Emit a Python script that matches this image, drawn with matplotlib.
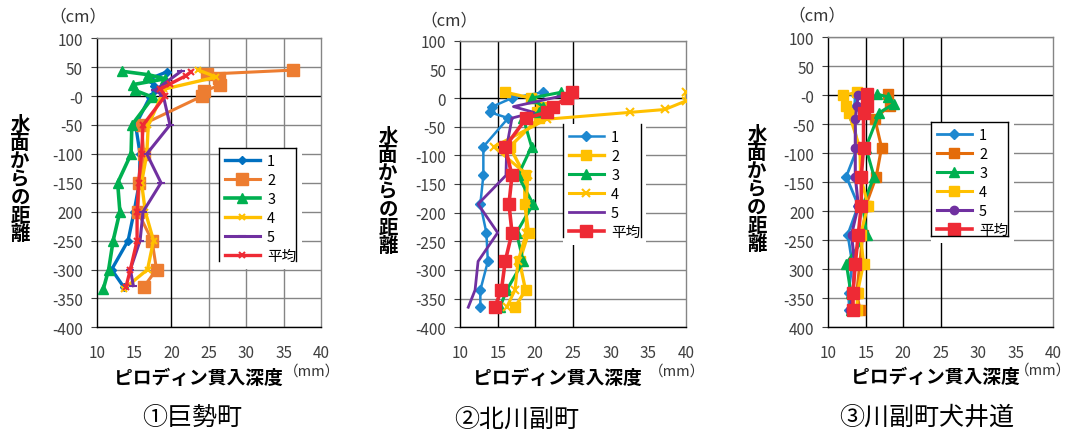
import numpy as np
import matplotlib
matplotlib.use('Agg')
import matplotlib.pyplot as plt
from matplotlib.lines import Line2D

plt.rcParams.update({
    'font.family': ['Noto Sans CJK JP', 'DejaVu Sans'],
    'font.size': 10, 'axes.linewidth': 1.0,
})

W, H = 1070, 435

# ---- data: depth from water surface (cm), Pilodyn penetration (mm) ----
# panel 1  巨勢町
p1_d1 = [42, 30, 18, 10, -2, -50, -100, -150, -200, -250, -300, -330]
p1_v1 = [19.4, 17.1, 17.6, 17.8, 17.1, 15.2, 15.8, 15.7, 15.0, 14.2, 12.0, 13.6]
p1_d2 = [45, 38, 31, 19, 9, 0, -50, -100, -150, -200, -250, -300, -330]
p1_v2 = [36.3, 24.8, 26.3, 26.5, 24.4, 24.1, 16.0, 16.3, 15.7, 15.5, 17.4, 18.0, 16.3]
p1_d3 = [43, 37, 30, 20, 10, -2, -50, -100, -150, -200, -250, -300, -333]
p1_v3 = [13.4, 16.9, 19.2, 14.9, 15.1, 17.5, 14.7, 14.6, 12.8, 13.1, 12.2, 11.6, 10.9]
p1_d4 = [45, 33, 12, 1, -50, -100, -150, -200, -250, -300, -334]
p1_v4 = [23.6, 26.0, 19.0, 18.7, 16.9, 16.7, 16.0, 16.5, 17.6, 16.8, 13.6]
p1_d5 = [43, 10, 1, -50, -100, -150, -200, -250, -300, -328]
p1_v5 = [21.3, 17.8, 18.9, 19.8, 16.7, 18.6, 16.2, 15.8, 14.5, 14.9]
p1_d6 = [42, 35, 21, 12, 1, -50, -100, -150, -200, -250, -300, -331]
p1_v6 = [22.6, 21.9, 19.8, 18.5, 19.2, 16.2, 16.0, 15.6, 15.4, 15.4, 14.5, 13.9]

# panel 2  北川副町
p2_d = [10, 0, -15, -25, -35, -85, -135, -185, -235, -285, -335, -365]
p2_v1 = [21.0, 16.9, 14.3, 14.0, 16.4, 13.1, 13.1, 12.7, 13.5, 13.7, 12.7, 12.7]
p2_v2 = [16.0, 19.4, 20.8, 20.2, 20.5, 16.6, 18.6, 18.6, 19.1, 17.9, 18.7, 17.3]
p2_v3 = [23.4, 19.5, 21.0, 20.5, 18.4, 19.5, 17.7, 19.7, 17.5, 18.4, 16.2, 15.3]
p2_d4 = [10, -5, -20, -25, -37, -85, -135, -185, -235, -285, -335, -365]
p2_v4 = [40.0, 40.0, 37.2, 32.6, 21.5, 14.5, 19.0, 18.8, 18.8, 17.7, 17.3, 16.2]
p2_d5 = [5, -15, -25, -35, -85, -135, -185, -235, -285, -335, -365]
p2_v5 = [24.0, 17.1, 19.8, 16.9, 16.2, 16.1, 12.4, 15.0, 12.4, 12.0, 11.1]
p2_v6 = [24.9, 24.2, 22.3, 21.5, 18.8, 16.0, 16.9, 16.5, 16.9, 16.0, 15.5, 14.6]

# panel 3  川副町犬井道
p3_d1 = [2, -20, -40, -90, -140, -190, -240, -290, -340, -370]
p3_v1 = [13.6, 13.5, 13.4, 13.9, 12.4, 14.0, 12.6, 13.2, 12.7, 12.8]
p3_d2 = [2, -18, -40, -90, -140, -190, -240, -290, -340, -370]
p3_v2 = [18.0, 18.2, 16.2, 17.1, 16.4, 15.0, 14.6, 14.2, 13.8, 14.2]
p3_d3 = [2, -3, -15, -30, -90, -140, -190, -240, -290, -340, -370]
p3_v3 = [16.5, 18.0, 18.7, 16.8, 15.0, 16.1, 14.6, 15.1, 12.4, 13.0, 13.0]
p3_d4 = [5, 0, -18, -30, -90, -140, -190, -240, -290, -340, -370]
p3_v4 = [13.8, 12.0, 12.4, 12.7, 14.2, 14.3, 15.3, 14.3, 14.7, 13.9, 13.8]
p3_d5 = [1, -18, -41, -91, -140, -190, -240, -290, -340, -370]
p3_v5 = [14.0, 13.8, 13.6, 13.6, 13.6, 14.0, 13.1, 13.5, 13.3, 12.9]
p3_d6 = [2, -18, -30, -90, -140, -190, -240, -290, -340, -370]
p3_v6 = [15.1, 15.1, 14.7, 14.7, 14.4, 14.4, 14.0, 13.6, 13.3, 13.3]

names = ['1', '2', '3', '4', '5', '平均']
yticks = [100, 50, 0, -50, -100, -150, -200, -250, -300, -350, -400]
ylab1 = ['100', '50', '-0', '-50', '-100', '-150', '200', '-250', '-300', '-350', '-400']
ylab2 = ['100', '50', '0', '-50', '-100', '-150', '-200', '-250', '-300', '-350', '-400']
ylab3 = ['100', '50', '-0', '-50', '-100', '-150', '200', '-250', '300', '-350', '400']
xticks = [10, 15, 20, 25, 30, 35, 40]
titles = ['①巨勢町', '②北川副町', '③川副町犬井道']

BL, OR, GN, YL, PU, RD = '#0070C0', '#ED7D31', '#00B050', '#FFC000', '#7030A0', '#EE2A35'

# series: depth, value, colour, marker, marker size, line width
panels = [
    dict(rect=(96.7, 39.3, 321, 328.3), ylab=ylab1, vk=[20], vg=[25, 30, 35],
         series=[(p1_d1, p1_v1, BL, 'D', 4.5, 2.4), (p1_d2, p1_v2, OR, 's', 8, 2.2), (p1_d3, p1_v3, GN, '^', 7.5, 2.6),
                 (p1_d4, p1_v4, YL, 'x', 5, 2.4), (p1_d5, p1_v5, PU, '_', 6, 2.2), (p1_d6, p1_v6, RD, 'x', 5, 2.4)],
         leg=(219, 149, 296, 262), edges='ltr', lab=(20, 180), cm=(78, 17), xl=(198, 378), mm=(312, 372), tt=(192, 418)),
    dict(rect=(460, 41.7, 686, 328.3), ylab=ylab2, vk=[15, 20, 25], vg=[],
         series=[(p2_d, p2_v1, '#1E88D0', 'D', 5, 1.8), (p2_d, p2_v2, YL, 's', 7.5, 2.4), (p2_d, p2_v3, GN, '^', 6.5, 2.2),
                 (p2_d4, p2_v4, YL, 'x', 6, 2.2), (p2_d5, p2_v5, PU, None, 0, 2.0), (p2_d, p2_v6, RD, 's', 8, 2.6)],
         leg=(563, 125, 641, 238), edges='lr', lab=(388, 192), cm=(449, 21), xl=(557, 378), mm=(677, 372), tt=(517, 420)),
    dict(rect=(828.3, 38.3, 1053.3, 328.3), ylab=ylab3, vk=[15, 20, 25], vg=[],
         series=[(p3_d1, p3_v1, '#1E88D0', 'D', 5, 2.0), (p3_d2, p3_v2, '#E46C0A', 's', 7.5, 2.2), (p3_d3, p3_v3, GN, '^', 7, 2.2),
                 (p3_d4, p3_v4, YL, 's', 7.5, 2.2), (p3_d5, p3_v5, PU, 'o', 6, 2.2), (p3_d6, p3_v6, RD, 's', 8, 2.6)],
         leg=(931, 123, 1008, 237), edges='ltrb', lab=(757, 190), cm=(817, 16), xl=(935, 377), mm=(1043, 371), tt=(927, 418)),
]

def fp(x, y):
    return x / W, 1 - y / H

fig = plt.figure(figsize=(W / 100, H / 100), dpi=100)
for p in panels:
    x0, y0, x1, y1 = p['rect']
    ax = fig.add_axes([x0 / W, 1 - y1 / H, (x1 - x0) / W, (y1 - y0) / H])
    ax.set_xlim(10, 40); ax.set_ylim(-400, 100)
    for yv in yticks:
        ax.axhline(yv, color='black' if yv == 0 else '#858585', lw=1.0, zorder=1)
    for xv in p['vk']:
        ax.axvline(xv, color='black', lw=1.0, zorder=1)
    for xv in p['vg']:
        ax.axvline(xv, color='#858585', lw=1.0, zorder=1)
    handles = []
    for (d, v, c, m, ms, lw), nm in zip(p['series'], names):
        h, = ax.plot(v, d, color=c, lw=lw, marker=m, ms=ms, mew=1.5 if m in ('x', '_') else 1,
                     mfc=c, mec=c, label=nm, zorder=3)
        handles.append(h)
    for s in ['top', 'right']:
        ax.spines[s].set_color('#858585')
    ax.spines['left'].set_color('black'); ax.spines['bottom'].set_color('black')
    ax.set_yticks(yticks); ax.set_yticklabels(p['ylab'])
    ax.set_xticks(xticks); ax.set_xticklabels([str(t) for t in xticks])
    ax.tick_params(axis='y', length=4, pad=6, labelsize=11, colors='#404040')
    ax.tick_params(axis='x', length=0, pad=12, labelsize=11, colors='#404040')
    # legend, frame drawn by hand because some sides are missing
    lx0, ly0, lx1, ly1 = p['leg']
    leg = ax.legend(handles=handles, loc='upper left', bbox_to_anchor=fp(lx0, ly0),
                    bbox_transform=fig.transFigure, frameon=True, fancybox=False,
                    edgecolor='none', facecolor='white', framealpha=1, fontsize=10.5,
                    handlelength=2.4, labelspacing=0.35, borderpad=0.4, handletextpad=0.5,
                    borderaxespad=0)
    leg.set_zorder(5)
    fx0, fy0 = fp(lx0, ly0); fx1, fy1 = fp(lx1, ly1)
    segs = {'l': ([fx0, fx0], [fy0, fy1]), 'r': ([fx1, fx1], [fy0, fy1]),
            't': ([fx0, fx1], [fy0, fy0]), 'b': ([fx0, fx1], [fy1, fy1])}
    for e in p['edges']:
        fig.add_artist(Line2D(*segs[e], color='black', lw=1.0, transform=fig.transFigure, zorder=6))
    # texts
    fig.text(*fp(*p['lab']), '\n'.join('水面からの距離'), ha='center', va='center',
             fontsize=14, fontweight='bold', linespacing=0.95)
    fig.text(*fp(*p['cm']), '（cm）', ha='center', va='center', fontsize=12, color='#333333')
    fig.text(*fp(*p['xl']), 'ピロディン貫入深度', ha='center', va='center', fontsize=13.5, fontweight='bold')
    fig.text(*fp(*p['mm']), '（mm）', ha='center', va='center', fontsize=10.5, color='#333333')

for p, t in zip(panels, titles):
    fig.text(*fp(*p['tt']), t, ha='center', va='center', fontsize=18)

fig.savefig('out.png', dpi=100)
